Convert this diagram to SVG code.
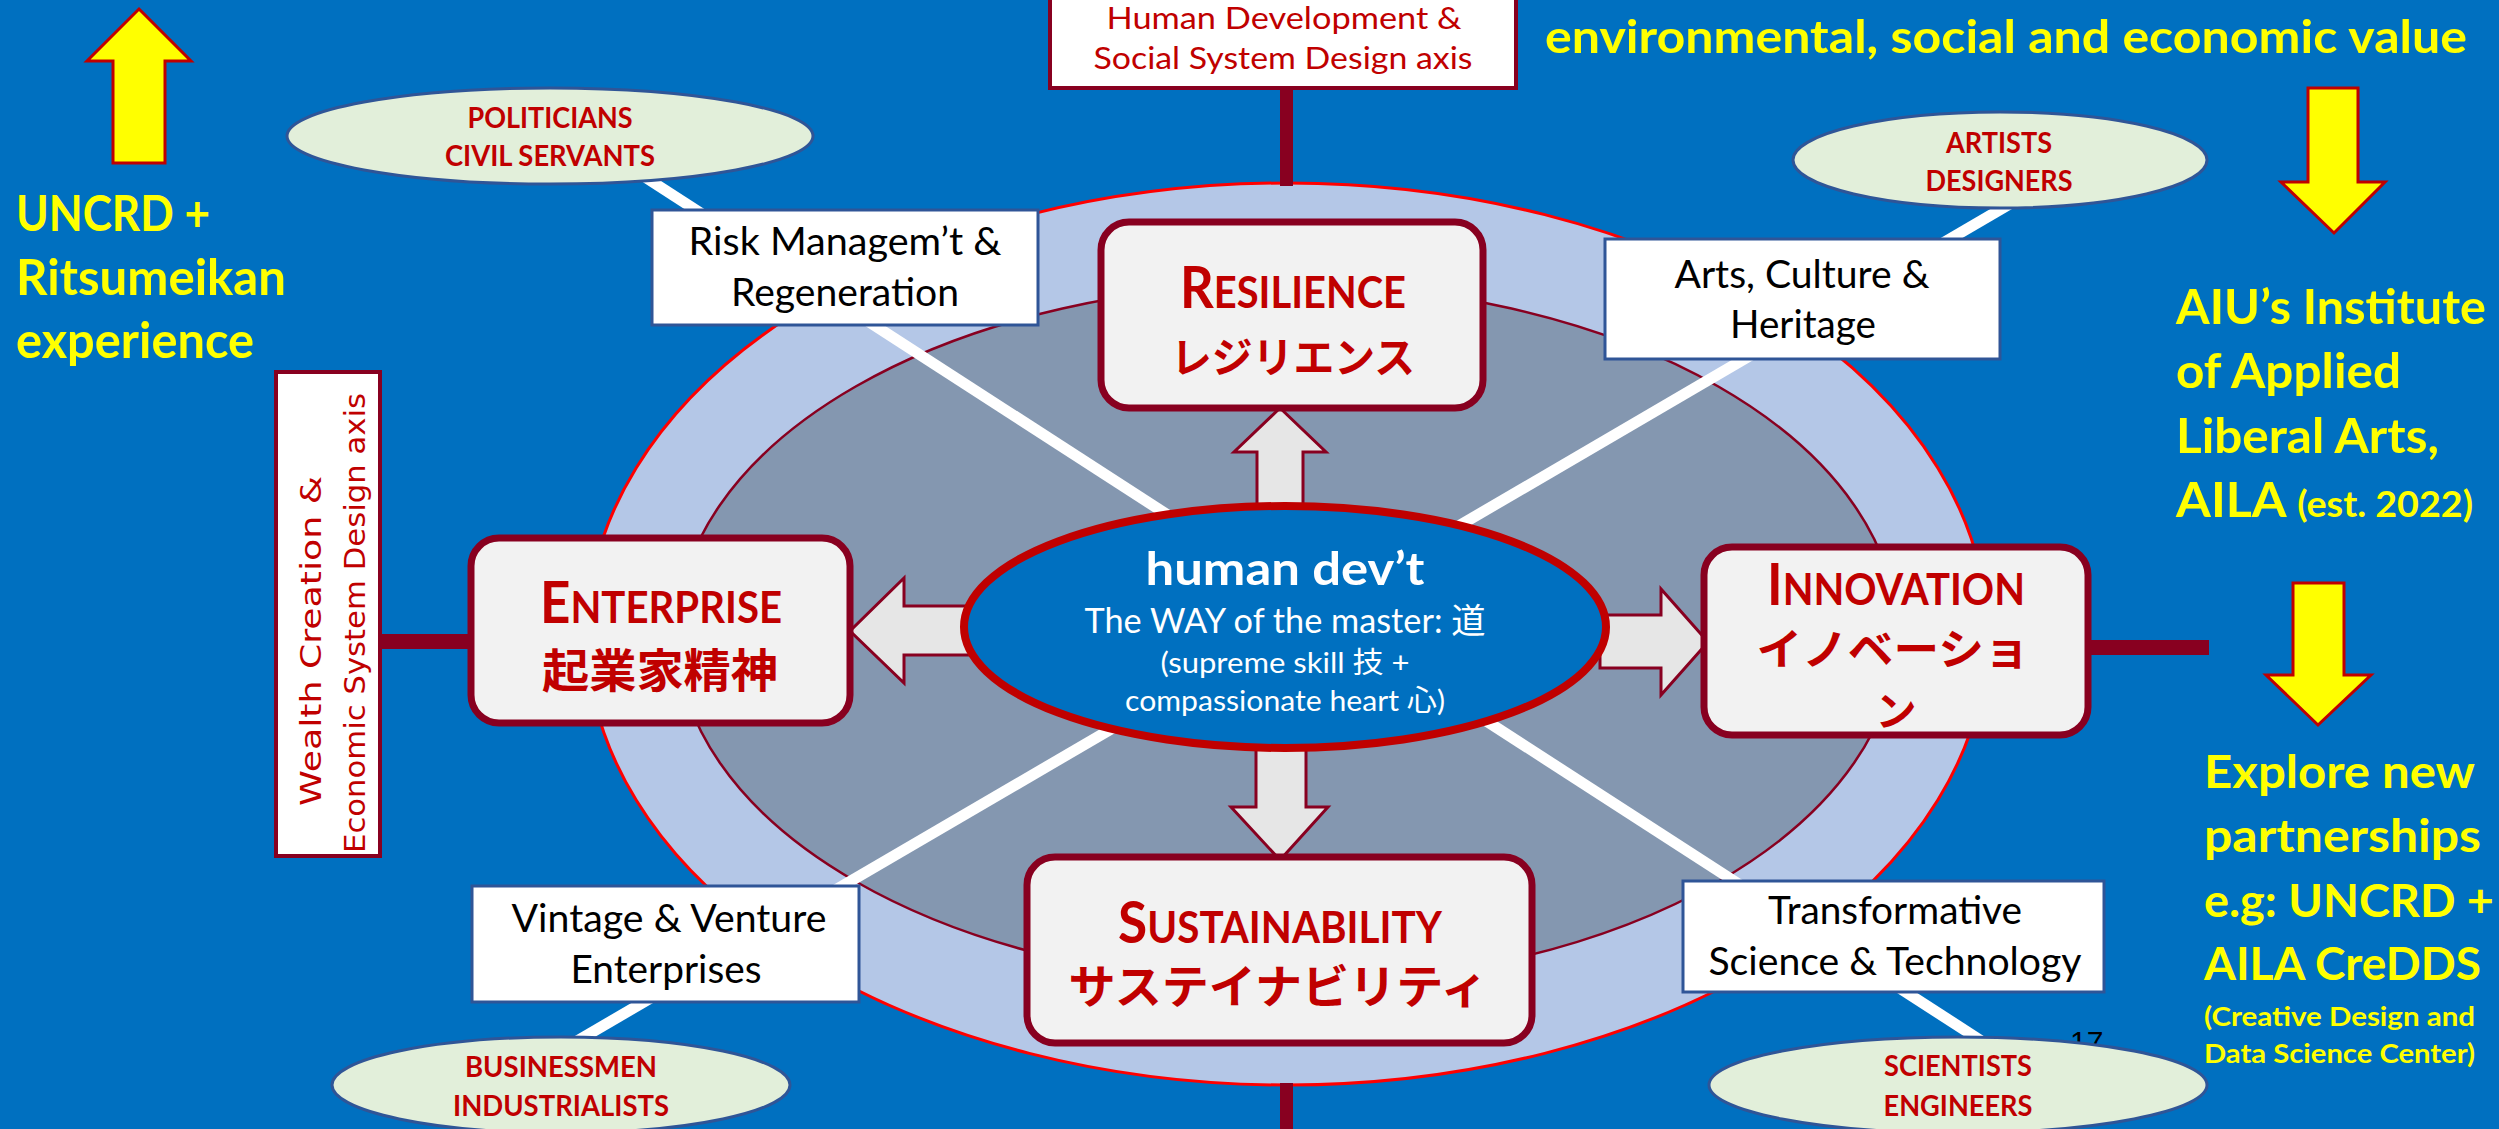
<svg xmlns="http://www.w3.org/2000/svg" width="2499" height="1129" viewBox="0 0 2499 1129">
<defs>
<style>
.bg{fill:#0070C0}
.yarrow{fill:#FFFF00;stroke:#C00000;stroke-width:3}
.ytext{fill:#FFFF00;font-family:Lato,"Liberation Sans",sans-serif;font-weight:bold}
.bar{fill:#880020}
.wline{stroke:#FFFFFF;stroke-width:11}
.barrow{fill:#E6E6E6;stroke:#880020;stroke-width:3}
.mbox{fill:#F2F2F2;stroke:#880020;stroke-width:7}
.title{fill:#C00000;font-family:Lato,"Liberation Sans",sans-serif;font-weight:bold;text-anchor:middle}
.jp{fill:#C00000;font-family:"Noto Sans CJK JP",sans-serif;font-weight:bold;text-anchor:middle}
.lbox{fill:#FFFFFF;stroke:#2F5597;stroke-width:3}
.ltext{fill:#000000;font-family:Lato,"Liberation Sans",sans-serif;font-size:38px;text-anchor:middle}
.pell{fill:#E2EFDA;stroke:#2F5597;stroke-width:3}
.ptext{fill:#C00000;font-family:Lato,"Liberation Sans",sans-serif;font-weight:bold;font-size:28px;text-anchor:middle}
.axbox{fill:#FFFFFF;stroke:#880020;stroke-width:4}
.axtext{fill:#C00000;font-family:Lato,"Liberation Sans",sans-serif;font-size:30px;text-anchor:middle}
.ctext{fill:#FFFFFF;font-family:Lato,"Noto Sans CJK JP",sans-serif;text-anchor:middle}
</style>
</defs>
<rect class="bg" x="0" y="0" width="2499" height="1129"/>

<g id="outer-ring">
<ellipse cx="1287" cy="634" rx="700" ry="451" fill="#B4C7E7" stroke="#FF0000" stroke-width="3"/>
</g>
<g id="inner-ring">
<ellipse cx="1287" cy="634" rx="610" ry="350" fill="#8497B0" stroke="#880020" stroke-width="2.5"/>
</g>

<g id="connectors">
<rect class="bar" x="1280" y="86" width="13" height="100"/>
<rect class="bar" x="1280" y="1083" width="13" height="50"/>
<rect class="bar" x="378" y="634" width="95" height="15"/>
<rect class="bar" x="2086" y="640" width="123" height="15"/>
<line class="wline" x1="600" y1="148" x2="2000" y2="1053"/>
<line class="wline" x1="2020" y1="198" x2="560" y2="1051"/>
<polygon class="barrow" points="1257,505 1257,452 1234,452 1280,408 1326,452 1303,452 1303,505"/>
<polygon class="barrow" points="1256,745 1306,745 1306,807 1328,807 1280,860 1231,807 1256,807"/>
<polygon class="barrow" points="975,606 904,606 904,578 850,631 904,683 904,655 975,655"/>
<polygon class="barrow" points="1600,615 1661,615 1661,589 1708,642 1661,695 1661,668 1600,668"/>
</g>

<g id="human-dev">
<ellipse cx="1285" cy="627" rx="321" ry="121" fill="#0070C0" stroke="#C00000" stroke-width="8"/>
<text class="ctext" x="1285" y="585" font-size="46" font-weight="bold" textLength="279" lengthAdjust="spacingAndGlyphs">human dev’t</text>
<text class="ctext" x="1285" y="633" font-size="34" textLength="401" lengthAdjust="spacingAndGlyphs">The WAY of the master: 道</text>
<text class="ctext" x="1285" y="673" font-size="29" textLength="249" lengthAdjust="spacingAndGlyphs">(supreme skill 技 +</text>
<text class="ctext" x="1285" y="711" font-size="29" textLength="320" lengthAdjust="spacingAndGlyphs">compassionate heart 心)</text>
</g>

<g id="resilience">
<rect class="mbox" x="1101" y="222" width="382" height="186" rx="28"/>
<text class="title" x="1293" y="308" font-size="44" textLength="226" lengthAdjust="spacingAndGlyphs"><tspan font-size="58">R</tspan>ESILIENCE</text>
<text class="jp" x="1293" y="373" font-size="42" textLength="244" lengthAdjust="spacingAndGlyphs">レジリエンス</text>
</g>

<g id="enterprise">
<rect class="mbox" x="471" y="538" width="379" height="185" rx="28"/>
<text class="title" x="661" y="623" font-size="44" textLength="242" lengthAdjust="spacingAndGlyphs"><tspan font-size="58">E</tspan>NTERPRISE</text>
<text class="jp" x="660" y="687" font-size="46" textLength="236" lengthAdjust="spacingAndGlyphs">起業家精神</text>
</g>

<g id="innovation">
<rect class="mbox" x="1704" y="547" width="384" height="188" rx="28"/>
<text class="title" x="1896" y="605" font-size="44" textLength="258" lengthAdjust="spacingAndGlyphs"><tspan font-size="58">I</tspan>NNOVATION</text>
<text class="jp" x="1893" y="665" font-size="43" textLength="273" lengthAdjust="spacingAndGlyphs">イノベーショ</text>
<text class="jp" x="1896" y="726" font-size="41">ン</text>
</g>

<g id="sustainability">
<rect class="mbox" x="1027" y="857" width="505" height="186" rx="28"/>
<text class="title" x="1280" y="943" font-size="44" textLength="324" lengthAdjust="spacingAndGlyphs"><tspan font-size="58">S</tspan>USTAINABILITY</text>
<text class="jp" x="1278" y="1003" font-size="46" textLength="419" lengthAdjust="spacingAndGlyphs">サステイナビリティ</text>
</g>

<g id="human-dev-axis">
<rect class="axbox" x="1050" y="-5" width="466" height="93"/>
<text class="axtext" x="1284" y="29" textLength="355" lengthAdjust="spacingAndGlyphs">Human Development &amp;</text>
<text class="axtext" x="1283" y="69" textLength="379" lengthAdjust="spacingAndGlyphs">Social System Design axis</text>
</g>

<g id="wealth-axis">
<rect class="axbox" x="276" y="372" width="104" height="484"/>
<text fill="#C00000" font-family="'DejaVu Sans',Verdana,sans-serif" font-size="28" text-anchor="middle" transform="translate(321,641) rotate(-90)" textLength="330" lengthAdjust="spacingAndGlyphs">Wealth Creation &amp;</text>
<text fill="#C00000" font-family="'DejaVu Sans',Verdana,sans-serif" font-size="28" text-anchor="middle" transform="translate(365,623) rotate(-90)" textLength="460" lengthAdjust="spacingAndGlyphs">Economic System Design axis</text>
</g>

<g id="risk">
<rect class="lbox" x="652" y="210" width="386" height="115"/>
<text class="ltext" x="845" y="255" textLength="313" lengthAdjust="spacingAndGlyphs">Risk Managem’t &amp;</text>
<text class="ltext" x="845" y="306" textLength="228" lengthAdjust="spacingAndGlyphs">Regeneration</text>
</g>

<g id="arts">
<rect class="lbox" x="1605" y="239" width="395" height="120"/>
<text class="ltext" x="1802" y="288" textLength="255" lengthAdjust="spacingAndGlyphs">Arts, Culture &amp;</text>
<text class="ltext" x="1803" y="338" textLength="146" lengthAdjust="spacingAndGlyphs">Heritage</text>
</g>

<g id="vintage">
<rect class="lbox" x="472" y="886" width="387" height="116"/>
<text class="ltext" x="669" y="932" textLength="315" lengthAdjust="spacingAndGlyphs">Vintage &amp; Venture</text>
<text class="ltext" x="666" y="983" textLength="191" lengthAdjust="spacingAndGlyphs">Enterprises</text>
</g>

<g id="transformative">
<rect class="lbox" x="1683" y="881" width="421" height="111"/>
<text class="ltext" x="1895" y="924" textLength="254" lengthAdjust="spacingAndGlyphs">Transformative</text>
<text class="ltext" x="1895" y="975" textLength="373" lengthAdjust="spacingAndGlyphs">Science &amp; Technology</text>
</g>

<g id="politicians">
<ellipse class="pell" cx="550" cy="136" rx="263" ry="48"/>
<text class="ptext" x="550" y="128" textLength="165" lengthAdjust="spacingAndGlyphs">POLITICIANS</text>
<text class="ptext" x="550" y="166" textLength="210" lengthAdjust="spacingAndGlyphs">CIVIL SERVANTS</text>
</g>

<g id="artists">
<ellipse class="pell" cx="2000" cy="160" rx="207" ry="48"/>
<text class="ptext" x="1999" y="153" textLength="106" lengthAdjust="spacingAndGlyphs">ARTISTS</text>
<text class="ptext" x="1999" y="191" textLength="147" lengthAdjust="spacingAndGlyphs">DESIGNERS</text>
</g>

<g id="businessmen">
<ellipse class="pell" cx="561" cy="1085" rx="229" ry="48"/>
<text class="ptext" x="561" y="1077" textLength="192" lengthAdjust="spacingAndGlyphs">BUSINESSMEN</text>
<text class="ptext" x="561" y="1116" textLength="216" lengthAdjust="spacingAndGlyphs">INDUSTRIALISTS</text>
</g>

<g id="page-number">
<text x="2070" y="1052" fill="#000000" font-family="'Liberation Sans',Arial,sans-serif" font-size="30">17</text>
</g>

<g id="scientists">
<ellipse class="pell" cx="1958" cy="1085" rx="249" ry="48"/>
<text class="ptext" x="1958" y="1076" textLength="148" lengthAdjust="spacingAndGlyphs">SCIENTISTS</text>
<text class="ptext" x="1958" y="1116" textLength="149" lengthAdjust="spacingAndGlyphs">ENGINEERS</text>
</g>

<g id="uncrd-ritsumeikan">
<polygon class="yarrow" points="139,9 191,61 165,61 165,163 113,163 113,61 87,61"/>
<text class="ytext" x="16" y="231" font-size="50" textLength="194" lengthAdjust="spacingAndGlyphs">UNCRD +</text>
<text class="ytext" x="16" y="295" font-size="50" textLength="270" lengthAdjust="spacingAndGlyphs">Ritsumeikan</text>
<text class="ytext" x="16" y="358" font-size="50" textLength="238" lengthAdjust="spacingAndGlyphs">experience</text>
</g>

<g id="value-heading">
<text class="ytext" x="1545" y="53" font-size="46" textLength="922" lengthAdjust="spacingAndGlyphs">environmental, social and economic value</text>
</g>

<g id="aila">
<polygon class="yarrow" points="2308,88 2358,88 2358,182 2385,182 2334,233 2281,182 2308,182"/>
<text class="ytext" x="2176" y="324" font-size="48" textLength="310" lengthAdjust="spacingAndGlyphs">AIU’s Institute</text>
<text class="ytext" x="2176" y="388" font-size="48" textLength="225" lengthAdjust="spacingAndGlyphs">of Applied</text>
<text class="ytext" x="2176" y="453" font-size="48" textLength="263" lengthAdjust="spacingAndGlyphs">Liberal Arts,</text>
<text class="ytext" x="2176" y="517" font-size="48" textLength="297" lengthAdjust="spacingAndGlyphs">AILA <tspan font-size="36">(est. 2022)</tspan></text>
</g>

<g id="partnerships">
<polygon class="yarrow" points="2293,583 2344,583 2344,675 2371,675 2318,725 2266,675 2293,675"/>
<text class="ytext" x="2204" y="788" font-size="46" textLength="271" lengthAdjust="spacingAndGlyphs">Explore new</text>
<text class="ytext" x="2204" y="852" font-size="46" textLength="277" lengthAdjust="spacingAndGlyphs">partnerships</text>
<text class="ytext" x="2204" y="917" font-size="46" textLength="290" lengthAdjust="spacingAndGlyphs">e.g: UNCRD +</text>
<text class="ytext" x="2204" y="980" font-size="46" textLength="277" lengthAdjust="spacingAndGlyphs">AILA CreDDS</text>
<text class="ytext" x="2204" y="1026" font-size="27" textLength="271" lengthAdjust="spacingAndGlyphs">(Creative Design and</text>
<text class="ytext" x="2204" y="1063" font-size="27" textLength="271" lengthAdjust="spacingAndGlyphs">Data Science Center)</text>
</g>
</svg>
